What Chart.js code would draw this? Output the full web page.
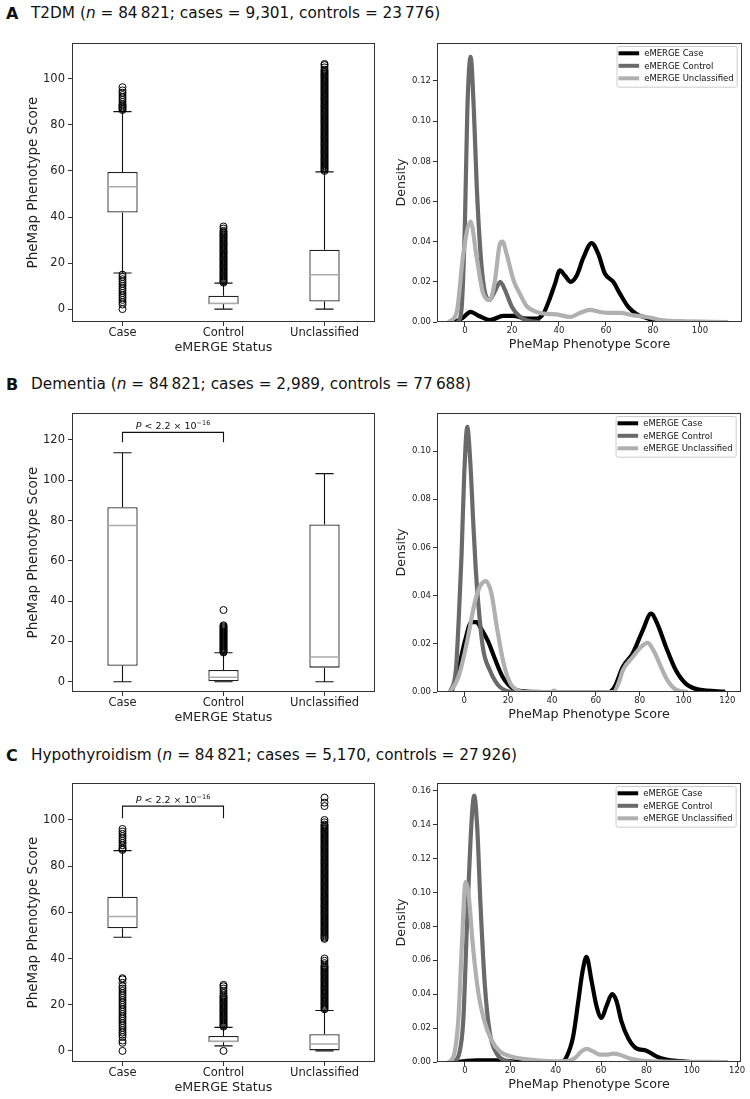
<!DOCTYPE html>
<html>
<head>
<meta charset="utf-8">
<script src="https://cdn.jsdelivr.net/npm/chart.js@4/dist/chart.umd.min.js"></script>
<style>
  body { margin: 0; width: 750px; height: 1099px; background: #fff; position: relative; overflow: hidden; font-family: 'DejaVu Sans', sans-serif; color: #111; }
  .lbl { position: absolute; left: 6px; font-weight: bold; font-size: 16px; line-height: 1; }
  .ttl { position: absolute; left: 31px; font-size: 15.3px; line-height: 1; white-space: nowrap; }
  canvas { position: absolute; }
</style>
</head>
<body>
<div class="lbl" style="top:6px">A</div>
<div class="ttl" style="top:6px">T2DM (<i>n</i> = 84&#8201;821; cases = 9,301, controls = 23&#8201;776)</div>
<div class="lbl" style="top:377px">B</div>
<div class="ttl" style="top:377px">Dementia (<i>n</i> = 84&#8201;821; cases = 2,989, controls = 77&#8201;688)</div>
<div class="lbl" style="top:748px">C</div>
<div class="ttl" style="top:748px">Hypothyroidism (<i>n</i> = 84&#8201;821; cases = 5,170, controls = 27&#8201;926)</div>

<canvas id="boxA" width="380" height="327" style="left:0;top:31px"></canvas>
<canvas id="densA" width="370" height="327" style="left:380px;top:31px"></canvas>
<canvas id="boxB" width="380" height="327" style="left:0;top:401px"></canvas>
<canvas id="densB" width="370" height="327" style="left:380px;top:401px"></canvas>
<canvas id="boxC" width="380" height="327" style="left:0;top:771px"></canvas>
<canvas id="densC" width="370" height="327" style="left:380px;top:771px"></canvas>

<script>
// ---- data ----
const groups = ['Case', 'Control', 'Unclassified'];
const groupPos = [1, 2, 3];
const seriesNames = ['eMERGE Case', 'eMERGE Control', 'eMERGE Unclassified'];

// A: T2DM box stats
const t2dmLow = [15.7, 0, 0];
const t2dmQ1 = [42, 2.2, 3.3];
const t2dmMed = [53.2, 2.4, 14.9];
const t2dmQ3 = [59.6, 5.8, 25.8];
const t2dmHigh = [85.8, 11.3, 59.6];
const t2dmOutCase = [0, 2, 3, 4, 5, 6, 7, 8, 9, 10, 11, 12, 13, 14, 15,
  86.5, 87, 87.5, 88, 88.5, 89, 90, 91, 92, 93, 94, 95, 96.4];
const t2dmOutControl = [11.5, 12, 12.5, 13, 13.5, 14, 14.5, 15, 15.5, 16, 16.5, 17, 17.5, 18, 18.5,
  19, 19.5, 20, 20.5, 21, 21.5, 22, 22.5, 23, 23.5, 24, 24.5, 25, 25.5, 26, 26.5, 27, 27.5, 28,
  28.5, 29, 29.5, 30, 30.5, 31, 31.5, 32, 32.5, 33, 33.5, 34, 35, 35.9];
const t2dmOutUncl = [60, 60.5, 61, 61.5, 62, 62.5, 63, 63.5, 64, 64.5, 65, 65.5, 66, 66.5, 67, 67.5,
  68, 68.5, 69, 69.5, 70, 70.5, 71, 71.5, 72, 72.5, 73, 73.5, 74, 74.5, 75, 75.5, 76, 76.5, 77,
  77.5, 78, 78.5, 79, 79.5, 80, 80.5, 81, 81.5, 82, 82.5, 83, 83.5, 84, 84.5, 85, 85.5, 86, 86.5,
  87, 87.5, 88, 88.5, 89, 89.5, 90, 90.5, 91, 91.5, 92, 92.5, 93, 93.5, 94, 94.5, 95, 95.5, 96,
  96.5, 97, 97.5, 98, 98.5, 99, 99.5, 100, 100.5, 101, 101.5, 102, 102.5, 103, 103.5, 104, 105,
  106, 106.5];

// B: Dementia box stats
const demLow = [0, 0, 0];
const demQ1 = [7.9, 0, 7];
const demMed = [77.5, 2.2, 12.3];
const demQ3 = [86.6, 5.8, 78.1];
const demHigh = [113.7, 14.4, 103.3];
const demOutCase = [];
const demOutControl = [14.5, 15, 15.5, 16, 16.5, 17, 17.5, 18, 18.5, 19, 19.5, 20, 20.5, 21, 21.5,
  22, 22.5, 23, 23.5, 24, 24.5, 25, 25.5, 26, 26.5, 27, 27.5, 28, 35.6];
const demOutUncl = [];
const demBracket = [118.9, 123.8];

// C: Hypothyroidism box stats
const hypoLow = [49.2, 2.2, 0];
const hypoQ1 = [53.1, 3.8, 0];
const hypoMed = [58.2, 4.2, 3];
const hypoQ3 = [66.8, 6.5, 7.2];
const hypoHigh = [86.7, 10.2, 17.5];
const hypoOutCase = [0, 3.5, 4.5, 6, 7, 8, 9, 10, 11, 12, 13, 14, 15, 16, 17, 18, 19, 20, 21, 22,
  23, 24, 25, 26, 27, 28, 29.5, 31, 31.5, 87, 87.5, 88, 89, 90, 91, 92, 93, 94, 95, 96.1];
const hypoOutControl = [0, 10.5, 11, 11.5, 12, 12.5, 13, 13.5, 14, 14.5, 15, 15.5, 16, 16.5, 17,
  17.5, 18, 18.5, 19, 19.5, 20, 20.5, 21, 21.5, 22, 22.5, 23, 23.5, 24, 25, 26, 27, 28, 28.6];
const hypoOutUncl = [18, 18.5, 19, 19.5, 20, 20.5, 21, 21.5, 22, 22.5, 23, 23.5, 24, 24.5, 25, 25.5,
  26, 26.5, 27, 27.5, 28, 28.5, 29, 29.5, 30, 30.5, 31, 31.5, 32, 32.5, 33, 33.5, 34, 34.5, 35,
  35.5, 36, 36.5, 37, 38, 39, 40,
  48.5, 49, 49.5, 50, 50.5, 51, 51.5, 52, 52.5, 53, 53.5, 54, 54.5, 55, 55.5, 56, 56.5, 57, 57.5,
  58, 58.5, 59, 59.5, 60, 60.5, 61, 61.5, 62, 62.5, 63, 63.5, 64, 64.5, 65, 65.5, 66, 66.5, 67,
  67.5, 68, 68.5, 69, 69.5, 70, 70.5, 71, 71.5, 72, 72.5, 73, 73.5, 74, 74.5, 75, 75.5, 76, 76.5,
  77, 77.5, 78, 78.5, 79, 79.5, 80, 80.5, 81, 81.5, 82, 82.5, 83, 83.5, 84, 84.5, 85, 85.5, 86,
  86.5, 87, 87.5, 88, 88.5, 89, 89.5, 90, 90.5, 91, 91.5, 92, 92.5, 93, 93.5, 94, 94.5, 95, 95.5,
  96, 96.5, 97, 97.5, 98, 99, 100, 106, 107.5, 109.7];
const hypoBracket = [100.7, 106];

const boxTicks100 = [0, 20, 40, 60, 80, 100];
const boxTicks120 = [0, 20, 40, 60, 80, 100, 120];

// density curves [score, density]
const t2dmDensCase = [[-4.3, 0], [-1, 0.002], [2.4, 0.005], [6, 0.003], [10.6, 0.001], [16.3, 0.003],
  [20.6, 0.003], [26.2, 0.0017], [30.5, 0.0017], [33.3, 0.004], [36.2, 0.012], [38.3, 0.019],
  [40.4, 0.0257], [42.6, 0.023], [45, 0.02], [47.5, 0.023], [50.4, 0.032], [53.9, 0.0393],
  [56.7, 0.034], [59.6, 0.024], [63.1, 0.02], [66, 0.014], [69.5, 0.0075], [73, 0.004],
  [77.3, 0.002], [81.6, 0.0003], [84.4, 0]];
const t2dmDensControl = [[-3, 0], [-1.5, 0.006], [0, 0.05], [1, 0.105], [2.4, 0.132], [3.8, 0.105],
  [5, 0.068], [6.4, 0.038], [8, 0.018], [10.5, 0.011], [13, 0.016], [15, 0.02], [17, 0.016],
  [20, 0.0075], [23.5, 0.0025], [28, 0.0003], [32, 0]];
const t2dmDensUncl = [[-7, 0], [-3.5, 0.005], [-0.7, 0.034], [2.4, 0.05], [5, 0.032], [7.8, 0.014],
  [10.6, 0.011], [12.8, 0.021], [14.9, 0.039], [16, 0.04], [17.7, 0.034], [20.6, 0.021],
  [23.4, 0.014], [26.2, 0.008], [30.5, 0.005], [34.8, 0.004], [39, 0.0038], [44.7, 0.0025],
  [48.9, 0.0045], [53.2, 0.006], [57.4, 0.005], [61.7, 0.0045], [66, 0.0045], [71.6, 0.0033],
  [77.3, 0.0025], [84.4, 0.0008], [91.5, 0.0004], [112, 0]];

const demDensCase = [[-5.8, 0], [-2.7, 0.009], [0.3, 0.021], [3.3, 0.029], [5.6, 0.029], [7.9, 0.026],
  [10.9, 0.021], [13.9, 0.014], [17.7, 0.006], [22.3, 0.0014], [28.3, 0.0002], [40, 0], [66, 0],
  [68.5, 0.002], [72.3, 0.0104], [76.8, 0.016], [81.4, 0.0256], [85.2, 0.0325], [88.2, 0.028],
  [92, 0.0187], [96.5, 0.009], [101, 0.0035], [107, 0.001], [119, 0.0002]];
const demDensControl = [[-6.5, 0], [-3.8, 0.009], [-2.5, 0.03], [-1.2, 0.057], [0, 0.09], [1.4, 0.11],
  [2.8, 0.095], [4.1, 0.071], [5.2, 0.052], [6.4, 0.037], [8.6, 0.018], [11.7, 0.009],
  [15.5, 0.0028], [19.2, 0.0005], [22.3, 0]];
const demDensUncl = [[-6.5, 0], [-2.7, 0.006], [1.1, 0.02], [4.8, 0.037], [7.1, 0.0436], [9.8, 0.046],
  [12.4, 0.041], [14.7, 0.028], [17.7, 0.013], [20.8, 0.004], [24.5, 0.0007], [30, 0], [40, 0],
  [41, 0.0006], [42, 0], [68, 0], [70.5, 0.004], [72.3, 0.009], [76.8, 0.0145], [80.6, 0.0187],
  [83.6, 0.0204], [86.7, 0.0166], [89.7, 0.0104], [92.7, 0.0048], [95.8, 0.0014], [98.8, 0.0003],
  [102, 0]];

const hypoDensCase = [[-3, 0], [0, 0.0005], [5, 0.001], [15, 0.001], [20, 0.0005], [25, 0], [42.6, 0],
  [44.8, 0.003], [47.7, 0.015], [49.9, 0.035], [51.8, 0.053], [53.6, 0.062], [55.8, 0.048],
  [58, 0.033], [60.2, 0.026], [62.4, 0.033], [64.9, 0.04], [66.8, 0.036], [69, 0.024], [72, 0.014],
  [75.6, 0.008], [80, 0.0067], [84.4, 0.0033], [88.8, 0.0014], [94.7, 0.0005], [100.6, 0]];
const hypoDensControl = [[-5.1, 0], [-2.5, 0.005], [-0.7, 0.025], [1, 0.084], [2.9, 0.141], [4.1, 0.157],
  [5.4, 0.139], [6.9, 0.092], [8.8, 0.045], [11, 0.017], [14, 0.005], [17.6, 0.001], [21.3, 0]];
const hypoDensUncl = [[-7.3, 0], [-5.1, 0.003], [-2.9, 0.025], [-1.5, 0.064], [0.3, 0.106], [1.5, 0.1],
  [3.7, 0.066], [5.9, 0.041], [8.4, 0.025], [11.7, 0.013], [15.4, 0.0063], [21.3, 0.003],
  [28.6, 0.0014], [38.9, 0.0004], [44.8, 0.0005], [48.5, 0.0024], [51.4, 0.0063], [53.6, 0.0077],
  [56.5, 0.0063], [59.5, 0.0043], [62.4, 0.0043], [65.3, 0.0049], [68.3, 0.0043], [72, 0.0024],
  [77, 0.001], [87.4, 0.0003], [116, 0]];

const densXTicks100 = [0, 20, 40, 60, 80, 100];
const densXTicks120 = [0, 20, 40, 60, 80, 100, 120];
const densYTicksA = [0, 0.02, 0.04, 0.06, 0.08, 0.10, 0.12];
const densYTicksB = [0, 0.02, 0.04, 0.06, 0.08, 0.10];
const densYTicksC = [0, 0.02, 0.04, 0.06, 0.08, 0.10, 0.12, 0.14, 0.16];

// ---- style ----
const FONT = "'DejaVu Sans', sans-serif";
const INK = '#222';
const HALF_BOX = 0.15;
const HALF_CAP = 0.09;
const lineColors = ['#000000', '#6a6a6a', '#b0b0b0'];

Chart.defaults.font.family = FONT;
Chart.defaults.color = INK;
Chart.defaults.animation = false;
Chart.defaults.events = [];
Chart.defaults.plugins.legend.display = false;
Chart.defaults.plugins.tooltip.enabled = false;

// matplotlib style frame round the axes
Chart.register({
  id: 'frame',
  afterDatasetsDraw(chart) {
    const a = chart.chartArea, ctx = chart.ctx;
    ctx.save();
    ctx.strokeStyle = '#333';
    ctx.lineWidth = 1;
    ctx.strokeRect(a.left + 0.5, a.top + 0.5, a.right - a.left - 1, a.bottom - a.top - 1);
    ctx.restore();
  }
});

const innerLegend = {
  id: 'innerLegend',
  afterDraw(chart) {
    const a = chart.chartArea, ctx = chart.ctx;
    ctx.save();
    ctx.font = '8.5px ' + FONT;
    const labels = chart.data.datasets.map(d => d.label);
    const tw = Math.max(...labels.map(l => ctx.measureText(l).width));
    const w = 27.6 + tw + 3, h = 40.7;
    const x = a.right - 5.3 - w, y = a.top + 3;
    ctx.fillStyle = 'rgba(255,255,255,0.85)';
    ctx.strokeStyle = '#ccc';
    ctx.lineWidth = 1;
    ctx.beginPath();
    ctx.roundRect(x + 0.5, y + 0.5, w, h, 2);
    ctx.fill();
    ctx.stroke();
    chart.data.datasets.forEach((d, i) => {
      const ry = y + 7.3 + i * 12.5;
      ctx.strokeStyle = d.borderColor;
      ctx.lineWidth = 4;
      ctx.beginPath();
      ctx.moveTo(x + 2, ry);
      ctx.lineTo(x + 22.6, ry);
      ctx.stroke();
      ctx.fillStyle = '#111';
      ctx.textBaseline = 'middle';
      ctx.fillText(d.label, x + 27.6, ry + 0.5);
    });
    ctx.restore();
  }
};

function pValuePlugin(top) {
  return {
    id: 'pvalue',
    afterDatasetsDraw(chart) {
      const xs = chart.scales.x, ys = chart.scales.y, ctx = chart.ctx;
      const mid = (xs.getPixelForValue(groupPos[0]) + xs.getPixelForValue(groupPos[1])) / 2;
      const base = ys.getPixelForValue(top) - 3;
      ctx.save();
      ctx.fillStyle = '#111';
      ctx.textBaseline = 'alphabetic';
      ctx.font = 'italic 9.5px ' + FONT;
      const wP = ctx.measureText('P').width;
      ctx.font = '9.5px ' + FONT;
      const main = ' < 2.2 \u00d7 10';
      const wM = ctx.measureText(main).width;
      ctx.font = '6.5px ' + FONT;
      const sup = '\u221216';
      const wS = ctx.measureText(sup).width;
      let x = mid - (wP + wM + wS) / 2;
      ctx.font = 'italic 9.5px ' + FONT;
      ctx.fillText('P', x, base);
      x += wP;
      ctx.font = '9.5px ' + FONT;
      ctx.fillText(main, x, base);
      x += wM;
      ctx.font = '6.5px ' + FONT;
      ctx.fillText(sup, x, base - 4);
      ctx.restore();
    }
  };
}

function seg(x1, y1, x2, y2) {
  return [{x: x1, y: y1}, {x: x2, y: y2}, {x: x2, y: null}];
}

function axisGrid() {
  return { offset: false, drawOnChartArea: false, drawTicks: true, tickLength: 4, tickColor: '#333' };
}

function boxChart(id, low, q1, med, q3, high, outs, yTicks, yMin, yMax, bracket) {
  const boxes = groupPos.map((p, i) => ({x: p, y: [q1[i], q3[i]]}));
  const medians = [], whiskers = [], fliers = [];
  groupPos.forEach((p, i) => {
    medians.push(...seg(p - HALF_BOX, med[i], p + HALF_BOX, med[i]));
    whiskers.push(...seg(p, q1[i], p, low[i]));
    whiskers.push(...seg(p - HALF_CAP, low[i], p + HALF_CAP, low[i]));
    whiskers.push(...seg(p, q3[i], p, high[i]));
    whiskers.push(...seg(p - HALF_CAP, high[i], p + HALF_CAP, high[i]));
    outs[i].forEach(v => fliers.push({x: p, y: v}));
  });
  const datasets = [
    { type: 'line', data: fliers, showLine: false, pointStyle: 'circle', pointRadius: 3.5,
      pointBorderWidth: 1, pointBorderColor: '#000', pointBackgroundColor: 'rgba(255,255,255,0)', order: 1 },
    { type: 'line', data: medians, borderColor: '#aaa', borderWidth: 1.5, pointRadius: 0, spanGaps: false, order: 2 },
    { type: 'line', data: whiskers, borderColor: '#111', borderWidth: 1.1, pointRadius: 0, spanGaps: false, order: 3 },
    { type: 'bar', data: boxes, backgroundColor: '#fff', borderColor: '#222', borderWidth: 1.3,
      borderSkipped: false, barPercentage: 0.3, categoryPercentage: 1, grouped: false, order: 4 }
  ];
  const plugins = [];
  if (bracket) {
    datasets.unshift({ type: 'line', order: 0, borderColor: '#111', borderWidth: 1.1, pointRadius: 0,
      data: [{x: groupPos[0], y: bracket[0]}, {x: groupPos[0], y: bracket[1]},
             {x: groupPos[1], y: bracket[1]}, {x: groupPos[1], y: bracket[0]}] });
    plugins.push(pValuePlugin(bracket[1]));
  }
  return new Chart(document.getElementById(id), {
    type: 'bar',
    data: { datasets },
    plugins,
    options: {
      responsive: false,
      layout: { padding: { top: 12, right: 3, left: 0, bottom: 0 } },
      scales: {
        x: {
          type: 'linear', min: 0.5, max: 3.5, offset: false,
          afterBuildTicks: s => { s.ticks = groupPos.map(v => ({value: v})); },
          afterFit: s => { s.height = 36; },
          ticks: { callback: (v, i) => groups[i], font: { size: 11.5 }, padding: 0, maxRotation: 0, autoSkip: false, color: INK },
          grid: axisGrid(), border: { display: false },
          title: { display: true, text: 'eMERGE Status', font: { size: 12.7 }, padding: { top: 0, bottom: 3 }, color: INK }
        },
        y: {
          type: 'linear', min: yMin, max: yMax,
          afterBuildTicks: s => { s.ticks = yTicks.map(v => ({value: v})); },
          afterFit: s => { s.width = 72; },
          ticks: { font: { size: 11.5 }, padding: 3, color: INK },
          grid: axisGrid(), border: { display: false },
          title: { display: true, text: 'PheMap Phenotype Score', font: { size: 13.5 }, padding: { top: 25, bottom: 0 }, color: INK }
        }
      }
    }
  });
}

function densChart(id, curves, xMin, xMax, xTicks, yMax, yTicks, rightPad) {
  const datasets = curves.map((c, i) => ({
    label: seriesNames[i],
    data: c.map(([x, y]) => ({x, y})),
    borderColor: lineColors[i],
    borderWidth: 4.2,
    pointRadius: 0,
    cubicInterpolationMode: 'monotone',
    borderJoinStyle: 'round',
    order: 3 - i
  }));
  return new Chart(document.getElementById(id), {
    type: 'line',
    data: { datasets },
    plugins: [innerLegend],
    options: {
      responsive: false,
      layout: { padding: { top: 12, right: rightPad, left: 0, bottom: 0 } },
      scales: {
        x: {
          type: 'linear', min: xMin, max: xMax,
          afterBuildTicks: s => { s.ticks = xTicks.map(v => ({value: v})); },
          afterFit: s => { s.height = 36; },
          ticks: { font: { size: 8.5 }, padding: 0, maxRotation: 0, autoSkip: false, color: INK },
          grid: axisGrid(), border: { display: false },
          title: { display: true, text: 'PheMap Phenotype Score', font: { size: 12.7 }, padding: { top: 0, bottom: 6 }, color: INK }
        },
        y: {
          type: 'linear', min: 0, max: yMax,
          afterBuildTicks: s => { s.ticks = yTicks.map(v => ({value: v})); },
          afterFit: s => { s.width = 57; },
          ticks: { font: { size: 8.5 }, padding: 2, color: INK, callback: v => v.toFixed(2) },
          grid: axisGrid(), border: { display: false },
          title: { display: true, text: 'Density', font: { size: 12.7 }, padding: { top: 14, bottom: 0 }, color: INK }
        }
      }
    }
  });
}

boxChart('boxA', t2dmLow, t2dmQ1, t2dmMed, t2dmQ3, t2dmHigh,
  [t2dmOutCase, t2dmOutControl, t2dmOutUncl], boxTicks100, -5.6, 115.6, null);
densChart('densA', [t2dmDensCase, t2dmDensControl, t2dmDensUncl], -11.9, 117.9, densXTicks100, 0.1389, densYTicksA, 8);

boxChart('boxB', demLow, demQ1, demMed, demQ3, demHigh,
  [demOutCase, demOutControl, demOutUncl], boxTicks120, -5.1, 133.4, demBracket);
densChart('densB', [demDensCase, demDensControl, demDensUncl], -12.4, 126.2, densXTicks120, 0.1158, densYTicksB, 9);

boxChart('boxC', hypoLow, hypoQ1, hypoMed, hypoQ3, hypoHigh,
  [hypoOutCase, hypoOutControl, hypoOutUncl], boxTicks100, -4.8, 116, hypoBracket);
densChart('densC', [hypoDensCase, hypoDensControl, hypoDensUncl], -12.3, 121.7, densXTicks120, 0.1645, densYTicksC, 9);
</script>
</body>
</html>
